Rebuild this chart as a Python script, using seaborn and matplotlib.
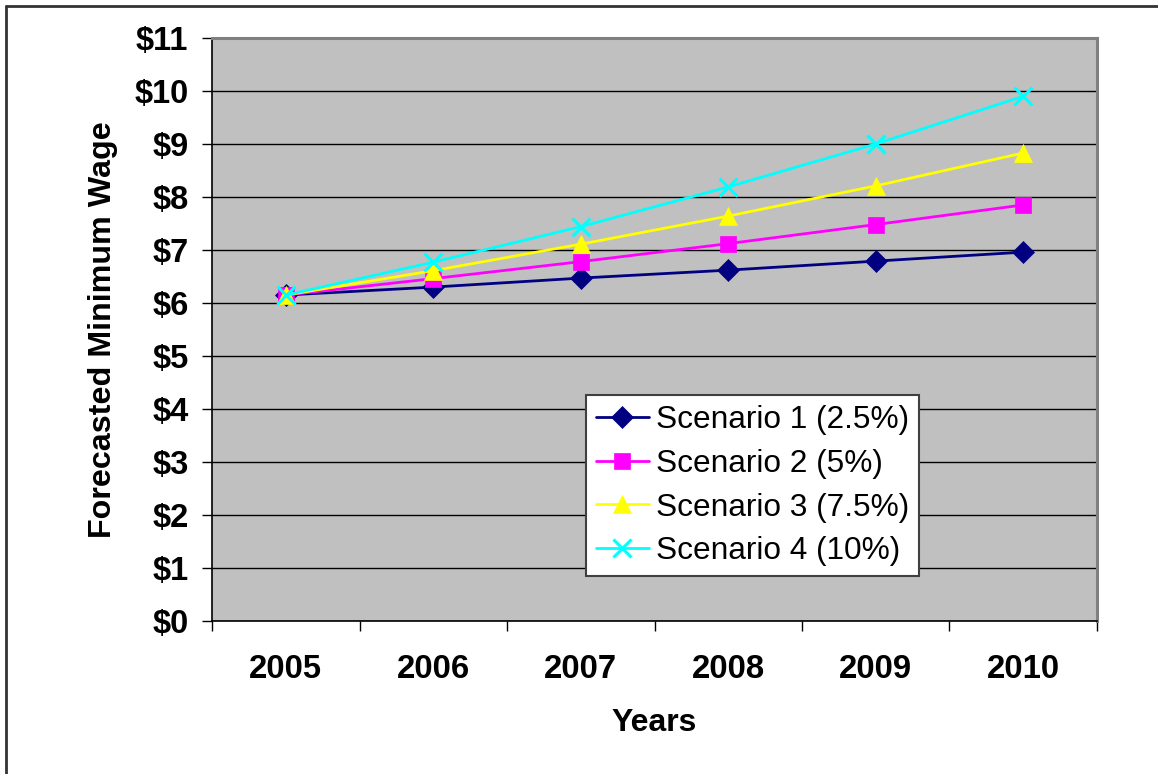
import matplotlib
matplotlib.use("Agg")
import matplotlib.pyplot as plt
from matplotlib.lines import Line2D
from matplotlib.ticker import FixedLocator, FuncFormatter
import seaborn as sns
import pandas as pd

years = [2005, 2006, 2007, 2008, 2009, 2010]
scenario_names = ["Scenario 1 (2.5%)", "Scenario 2 (5%)", "Scenario 3 (7.5%)", "Scenario 4 (10%)"]
scenario_1 = [6.15, 6.30, 6.47, 6.62, 6.79, 6.96]
scenario_2 = [6.15, 6.46, 6.78, 7.12, 7.48, 7.85]
scenario_3 = [6.15, 6.61, 7.11, 7.64, 8.21, 8.83]
scenario_4 = [6.15, 6.77, 7.44, 8.19, 9.00, 9.90]
y_ticks = list(range(0, 12))

series = [scenario_1, scenario_2, scenario_3, scenario_4]
colors = ["#000080", "#FF00FF", "#FFFF00", "#00FFFF"]
markers = ["D", "s", "^", "x"]
marker_sizes = [11, 11.5, 13, 13]

sns.set_theme(style="ticks")
plt.rcParams["font.family"] = ["Liberation Sans", "DejaVu Sans"]
plt.rcParams.update({"text.color": "black", "axes.labelcolor": "black",
                     "xtick.color": "black", "ytick.color": "black"})

fig = plt.figure(figsize=(11.58, 7.74), dpi=100)
fig.patch.set_facecolor("white")
ax = fig.add_axes([0.1831, 0.1977, 0.7642, 0.7532])
ax.set_facecolor("#C0C0C0")

for name, vals, c, m, ms in zip(scenario_names, series, colors, markers, marker_sizes):
    df = pd.DataFrame({"Year": years, "Wage": vals})
    sns.lineplot(data=df, x="Year", y="Wage", ax=ax, color=c, linewidth=2.0,
                 marker=m, markersize=ms, markeredgecolor=c, markerfacecolor=c,
                 markeredgewidth=2.2 if m == "x" else 0.5, label=name, zorder=3)

ax.set_xlim(years[0] - 0.5, years[-1] + 0.5)
ax.set_ylim(y_ticks[0], y_ticks[-1])

# category labels centred, tick marks on the category boundaries
ax.xaxis.set_major_locator(FixedLocator(years))
ax.set_xticklabels([str(y) for y in years])
ax.xaxis.set_minor_locator(FixedLocator([y - 0.5 for y in years] + [years[-1] + 0.5]))
ax.tick_params(axis="x", which="major", length=0, pad=24, labelsize=23.7, labelcolor="black")
ax.tick_params(axis="x", which="minor", length=7, width=1, color="black", direction="out")
for lab in ax.get_xticklabels():
    lab.set_fontweight("bold")

ax.yaxis.set_major_locator(FixedLocator(y_ticks))
ax.yaxis.set_major_formatter(FuncFormatter(lambda v, p: f"${int(v)}"))
ax.tick_params(axis="y", which="major", length=7, width=1, color="black",
               direction="out", pad=10, labelsize=23.5, labelcolor="black")
for lab in ax.get_yticklabels():
    lab.set_fontweight("bold")

ax.grid(axis="y", color="black", linewidth=1.0, zorder=1)
ax.grid(axis="x", visible=False)
ax.set_axisbelow(True)

ax.spines["left"].set_color("black")
ax.spines["bottom"].set_color("black")
ax.spines["left"].set_linewidth(1.2)
ax.spines["bottom"].set_linewidth(1.2)
for s in ("top", "right"):
    ax.spines[s].set_visible(True)
    ax.spines[s].set_color("#808080")
    ax.spines[s].set_linewidth(2.2)

ax.set_xlabel("Years", fontsize=23, fontweight="bold", labelpad=16, color="black")
ax.set_ylabel("Forecasted Minimum Wage", fontsize=23.2, fontweight="bold", labelpad=12, color="black")

leg = ax.legend(loc="lower left", bbox_to_anchor=(0.4226, 0.0772), borderaxespad=0,
                fontsize=22.8, frameon=True, fancybox=False, framealpha=1,
                facecolor="white", edgecolor="#404040", handlelength=1.7,
                handletextpad=0.22, labelspacing=0.44, borderpad=0.3)
leg.get_frame().set_linewidth(1.5)
leg.set_zorder(5)
for t in leg.get_texts():
    t.set_color("black")

# outer chart frame (top and left edges)
fig.add_artist(Line2D([6 / 1158, 6 / 1158], [0, 1 - 6 / 774], transform=fig.transFigure,
                      color="#333333", linewidth=2))
fig.add_artist(Line2D([6 / 1158, 1], [1 - 6 / 774, 1 - 6 / 774], transform=fig.transFigure,
                      color="#333333", linewidth=2))

fig.savefig("out.png", dpi=100, facecolor="white")
